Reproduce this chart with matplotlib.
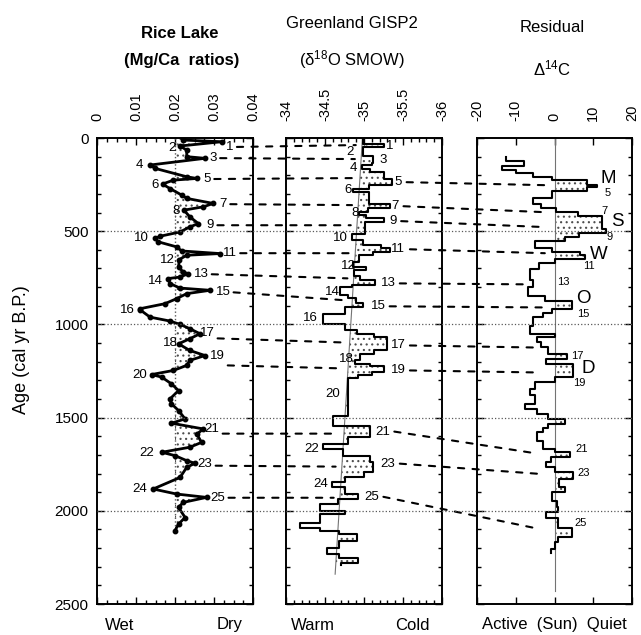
import numpy as np
import matplotlib
matplotlib.use('Agg')
import matplotlib.pyplot as plt
from matplotlib.patches import ConnectionPatch
from matplotlib.lines import Line2D
import matplotlib.transforms as mtrans
from matplotlib.ticker import MultipleLocator, FixedLocator

plt.rcParams['font.family'] = ['Liberation Sans', 'DejaVu Sans']
plt.rcParams['axes.unicode_minus'] = False
plt.rcParams['mathtext.fontset'] = 'custom'
plt.rcParams['mathtext.rm'] = 'Liberation Sans'
plt.rcParams['mathtext.it'] = 'Liberation Sans:italic'
plt.rcParams['hatch.linewidth'] = 0.8

# ---------------- data ----------------
# Rice Lake Mg/Ca
rice_age = [0, 11, 20, 43, 65, 100, 109, 145, 163, 208, 217, 226, 247, 271, 306, 324, 351, 369,
            387, 423, 459, 477, 504, 527, 539, 557, 584, 606, 620, 629, 652, 692, 719, 728, 746,
            754, 781, 805, 817, 835, 862, 889, 916,
            921, 961, 982, 1000, 1023, 1050, 1077, 1104, 1140, 1167, 1193, 1220, 1247, 1269, 1283,
            1319, 1355, 1400, 1426, 1462, 1507, 1530, 1561, 1588, 1633, 1659, 1686, 1704, 1731,
            1745, 1767, 1821, 1883, 1910, 1928, 1955, 1982, 2036, 2071, 2107]
rice_mgca = [0.0221, 0.0221, 0.032, 0.0213, 0.023, 0.023, 0.0277, 0.0136, 0.0149, 0.023, 0.0256,
             0.0196, 0.0168, 0.0187, 0.0217, 0.023, 0.0298, 0.0273, 0.0223, 0.0238, 0.026, 0.0238,
             0.0213, 0.0162, 0.0149, 0.0157, 0.0204, 0.0217, 0.0315, 0.023, 0.0211, 0.0209, 0.0221,
             0.0234, 0.0213, 0.0183, 0.0187, 0.0213, 0.029, 0.023, 0.0204, 0.0174, 0.011,
             0.011, 0.0136, 0.0187, 0.0213, 0.0238, 0.0264, 0.0238, 0.0209, 0.0238, 0.0277,
             0.0238, 0.023, 0.0196, 0.014, 0.0166, 0.0191, 0.0209, 0.0187, 0.0191, 0.0209,
             0.0226, 0.0191, 0.0273, 0.0256, 0.0268, 0.0238, 0.0166, 0.02, 0.023, 0.0251,
             0.023, 0.0213, 0.0144, 0.0204, 0.0281, 0.0221, 0.0209, 0.0226, 0.0209, 0.02]
rice_ref = 0.02
rice_ref_age = [0, 2110]

# Greenland GISP2 d18O (step boundaries / values)
gisp_age = [0, 30, 50, 95, 135, 145, 165, 180, 220, 250, 272, 292, 355, 375, 398, 415, 430, 450,
            513, 548, 575, 590, 612, 625, 665, 690, 710, 740, 763, 790, 800, 840, 860, 885, 905,
            942, 996, 1032, 1050, 1065, 1140, 1160, 1190, 1212, 1225, 1256, 1270, 1290, 1489,
            1543, 1606, 1642, 1668, 1704, 1740, 1790, 1821, 1848, 1870, 1910, 1937, 1964, 2000,
            2018, 2063, 2090, 2107, 2125, 2161, 2197, 2233, 2251, 2278, 2290]
gisp_d18o = [-34.99, -35.25, -34.99, -35.12, -35.10, -34.97, -35.08, -35.25, -35.36, -35.06,
             -34.86, -35.06, -35.33, -35.05, -34.93, -35.03, -35.25, -35.01, -34.85, -34.99,
             -35.22, -35.33, -35.12, -34.93, -34.86, -35.03, -34.87, -34.95, -35.14, -34.85,
             -34.69, -34.80, -34.90, -34.99, -34.75, -34.47, -34.76, -34.91, -35.13, -35.29,
             -35.13, -34.95, -34.88, -35.08, -35.25, -35.10, -34.92, -34.80, -34.60, -35.08,
             -34.80, -34.47, -34.73, -35.08, -35.12, -35.00, -34.76, -34.59, -34.76, -34.92,
             -34.67, -34.44, -34.75, -34.44, -34.18, -34.44, -34.68, -34.91, -34.68, -34.52,
             -34.68, -34.92, -34.70]
gisp_ref_age = [0, 2340]
gisp_ref = [-34.98, -34.63]

# Residual D14C (step boundaries / values)
resid_age = [100, 125, 150, 172, 190, 208, 226, 250, 262, 285, 320, 355, 375, 395, 420, 490,
             510, 530, 555, 590, 610, 630, 650, 670, 705, 760, 800, 850, 875, 920, 940, 960,
             1010, 1050, 1070, 1095, 1122, 1158, 1185, 1215, 1283, 1310, 1346, 1380, 1426,
             1453, 1480, 1507, 1534, 1555, 1579, 1624, 1668, 1686, 1713, 1740, 1767, 1794,
             1830, 1874, 1901, 1946, 1982, 2009, 2036, 2090, 2143, 2170, 2206, 2224]
resid_d14c = [-12.5, -8.0, -13.5, -10.0, -5.5, -0.6, 8.5, 11.0, 8.5, -0.6, -5.5, -3.5, 0.4, 6.0,
              12.3, 13.2, 6.2, 2.8, -5.1, -0.6, 6.6, 7.9, 0.0, -3.9, -6.3, -5.5, -6.8, -2.4,
              4.5, -0.6, -3.0, -5.5, -6.3, 0.2, -4.5, -3.5, -1.7, 3.2, -2.2, 4.8, 0.0, -5.0,
              -6.3, -5.0, -7.6, -4.5, -1.7, 2.7, -1.7, -3.0, -4.5, -3.0, 0.0, 4.0, -1.0, -2.2,
              0.0, 4.8, 1.2, 2.6, -0.6, 0.6, 0.8, -2.2, 0.8, 4.5, 0.8, 0.0, -1.0]
resid_ref_age = [0, 2430]

# event labels
rice_lbl_x = [0.034, 0.0192, 0.0297, 0.0108, 0.0282, 0.0149, 0.0323, 0.0203, 0.029, 0.0115,
              0.034, 0.018, 0.0267, 0.0149, 0.0323, 0.0077, 0.0282, 0.0187, 0.0308, 0.011,
              0.0295, 0.0128, 0.0277, 0.011, 0.031]
rice_lbl_age = [48, 54, 108, 145, 220, 253, 355, 392, 468, 538, 618, 656, 731, 769, 828, 925,
                1048, 1102, 1167, 1274, 1559, 1688, 1747, 1882, 1930]
gisp_lbl_x = [-35.33, -34.82, -35.24, -34.86, -35.44, -34.8, -35.4, -34.88, -35.37, -34.7,
              -35.44, -34.8, -35.31, -34.59, -35.18, -34.31, -35.44, -34.78, -35.44, -34.6,
              -35.24, -34.33, -35.31, -34.45, -35.1]
gisp_lbl_age = [43, 75, 118, 161, 237, 280, 366, 403, 446, 538, 597, 688, 780, 828, 903, 968,
                1113, 1188, 1247, 1371, 1575, 1667, 1747, 1855, 1925]
resid_letters = ['M', 'S', 'W', 'O', 'D']
resid_letter_x = [13.8, 16.3, 11.5, 7.4, 8.6]
resid_letter_age = [215, 450, 624, 860, 1236]
resid_num = ['5', '7', '9', '11', '13', '15', '17', '19', '21', '23', '25']
resid_num_x = [13.8, 13.0, 14.2, 8.9, 2.2, 7.4, 5.8, 6.3, 7.1, 7.6, 6.8]
resid_num_age = [296, 392, 530, 688, 774, 946, 1167, 1317, 1667, 1796, 2064]

# correlation links (event number, age in each record)
link_num = [1, 3, 5, 7, 9, 11, 13, 15, 17, 19, 21, 23, 25]
link_age_rice = [48, 108, 220, 355, 468, 618, 731, 828, 1075, 1220, 1586, 1758, 1930]
link_age_gisp = [38, 113, 215, 360, 468, 618, 753, 871, 1097, 1236, 1586, 1763, 1930]
link_age_resid = [None, None, 253, 398, 478, 618, 785, 909, 1124, 1258, 1688, 1801, 2097]
link_resid_end = [None, None, -2.5, -2.5, -2.5, -2.5, -8, -3, -5, -4, -6, -4.5, -4]

# ---------------- figure ----------------
W, H = 641, 635
fig = plt.figure(figsize=(W / 100, H / 100), dpi=100)
bottom = (H - 604) / H
height = (604 - 138) / H
ax1 = fig.add_axes([97 / W, bottom, 156 / W, height])
ax2 = fig.add_axes([286 / W, bottom, 156 / W, height])
ax3 = fig.add_axes([477 / W, bottom, 155 / W, height])

stip = dict(facecolor='white', edgecolor='0.3', hatch='...', linewidth=0)

def steps(b, v):
    b = np.asarray(b, float)
    v = np.asarray(v, float)
    return np.repeat(v, 2), np.repeat(b, 2)[1:-1]

# Panel 1
ra = np.array(rice_age, float)
rv = np.array(rice_mgca, float)
ax1.fill_betweenx(ra, rv, rice_ref, where=rv > rice_ref, interpolate=True, **stip)
ax1.plot([rice_ref, rice_ref], rice_ref_age, color='0.35', ls=':', lw=1.0)
ax1.plot(rv, ra, color='k', lw=2.0, marker='o', ms=3.2)

# Panel 2
gx, gy = steps(gisp_age, gisp_d18o)
gref = np.interp(gy, gisp_ref_age, gisp_ref)
ax2.fill_betweenx(gy, gx, gref, where=gx < gref, **stip)
ax2.plot(gisp_ref, gisp_ref_age, color='0.45', lw=0.8)
ax2.plot(gx, gy, color='k', lw=1.5)

# Panel 3
qx, qy = steps(resid_age, resid_d14c)
ax3.fill_betweenx(qy, qx, 0, where=qx > 0, **stip)
ax3.plot([0, 0], resid_ref_age, color='0.45', lw=0.8)
ax3.plot(qx, qy, color='k', lw=1.5)

# axes formatting
ax1.set_xlim(0, 0.04)
ax2.set_xlim(-34, -36)
ax3.set_xlim(-20, 20)
xt = [([0, 0.01, 0.02, 0.03, 0.04], ['0', '0.01', '0.02', '0.03', '0.04'], 0.0025),
      ([-34, -34.5, -35, -35.5, -36], ['-34', '-34.5', '-35', '-35.5', '-36'], 0.1),
      ([-20, -10, 0, 10, 20], ['-20', '-10', '0', '10', '20'], None)]
for ax, (ticks, labels, minor) in zip([ax1, ax2, ax3], xt):
    ax.set_ylim(2500, 0)
    ax.xaxis.set_major_locator(FixedLocator(ticks))
    ax.set_xticklabels(labels)
    if minor:
        ax.xaxis.set_minor_locator(MultipleLocator(minor))
    ax.yaxis.set_major_locator(MultipleLocator(500))
    ax.yaxis.set_minor_locator(MultipleLocator(100))
    ax.tick_params(which='both', direction='in', top=True, bottom=True, left=True, right=True,
                   labeltop=True, labelbottom=False, labelleft=(ax is ax1), width=1.0)
    ax.tick_params(which='major', length=5)
    ax.tick_params(which='minor', length=3)
    ax.tick_params(axis='x', labelsize=10.5, labelrotation=90, pad=12)
    ax.tick_params(axis='y', labelsize=11, pad=6)
    for s in ax.spines.values():
        s.set_linewidth(1.4)
ax1.set_yticks([0, 500, 1000, 1500, 2000, 2500])

# dotted horizontal lines across panels
tr = mtrans.blended_transform_factory(fig.transFigure, ax1.transData)
for a in [500, 1000, 1500, 2000]:
    fig.add_artist(Line2D([97 / W, 632 / W], [a, a], transform=tr, color='0.35', ls=':', lw=0.9))

# event labels
for i, (x, a) in enumerate(zip(rice_lbl_x, rice_lbl_age)):
    ax1.text(x, a, str(i + 1), fontsize=9.5, ha='center', va='center')
for i, (x, a) in enumerate(zip(gisp_lbl_x, gisp_lbl_age)):
    ax2.text(x, a, str(i + 1), fontsize=9.5, ha='center', va='center')
for t, x, a in zip(resid_letters, resid_letter_x, resid_letter_age):
    ax3.text(x, a, t, fontsize=13.5, ha='center', va='center')
for t, x, a in zip(resid_num, resid_num_x, resid_num_age):
    ax3.text(x, a, t, fontsize=8, ha='center', va='center')

# correlation dashed lines
dash = dict(linestyle=(0, (3, 4)), lw=1.5, color='k')
for k, n in enumerate(link_num):
    i = n - 1
    nd = len(str(n))
    xa = rice_lbl_x[i] + (3.3 * nd + 4) / 3900
    ref_here = np.interp(link_age_gisp[k], gisp_ref_age, gisp_ref)
    xb = ref_here + 0.08
    con = ConnectionPatch(xyA=(xa, link_age_rice[k]), coordsA=ax1.transData,
                          xyB=(xb, link_age_gisp[k]), coordsB=ax2.transData, **dash)
    fig.add_artist(con)
    if link_age_resid[k] is not None:
        xa2 = gisp_lbl_x[i] - (3.3 * nd + 5) / 78
        con = ConnectionPatch(xyA=(xa2, gisp_lbl_age[i]), coordsA=ax2.transData,
                              xyB=(link_resid_end[k], link_age_resid[k]), coordsB=ax3.transData,
                              **dash)
        fig.add_artist(con)

# titles
fig.text(180 / W, 1 - 33 / H, 'Rice Lake', fontsize=12, fontweight='bold', ha='center', va='center')
fig.text(182 / W, 1 - 61 / H, '(Mg/Ca  ratios)', fontsize=12, fontweight='bold', ha='center', va='center')
fig.text(352 / W, 1 - 23 / H, 'Greenland GISP2', fontsize=12, ha='center', va='center')
fig.text(352 / W, 1 - 60 / H, r'($\mathregular{\delta^{18}}$O SMOW)', fontsize=12, ha='center', va='center')
fig.text(552 / W, 1 - 27 / H, 'Residual', fontsize=12, ha='center', va='center')
fig.text(552 / W, 1 - 68 / H, r'$\mathregular{\Delta^{14}}$C', fontsize=12, ha='center', va='center')

# bottom labels
yb = 1 - 625 / H
fig.text(120 / W, yb, 'Wet', fontsize=12, ha='center', va='center')
fig.text(230 / W, yb, 'Dry', fontsize=12, ha='center', va='center')
fig.text(313 / W, yb, 'Warm', fontsize=12, ha='center', va='center')
fig.text(412 / W, yb, 'Cold', fontsize=12, ha='center', va='center')
fig.text(554 / W, yb, 'Active  (Sun)  Quiet', fontsize=12, ha='center', va='center')

fig.text(22 / W, 1 - 350 / H, 'Age (cal yr B.P.)', fontsize=13, rotation=90, ha='center', va='center')

fig.savefig('out.png', dpi=100)
